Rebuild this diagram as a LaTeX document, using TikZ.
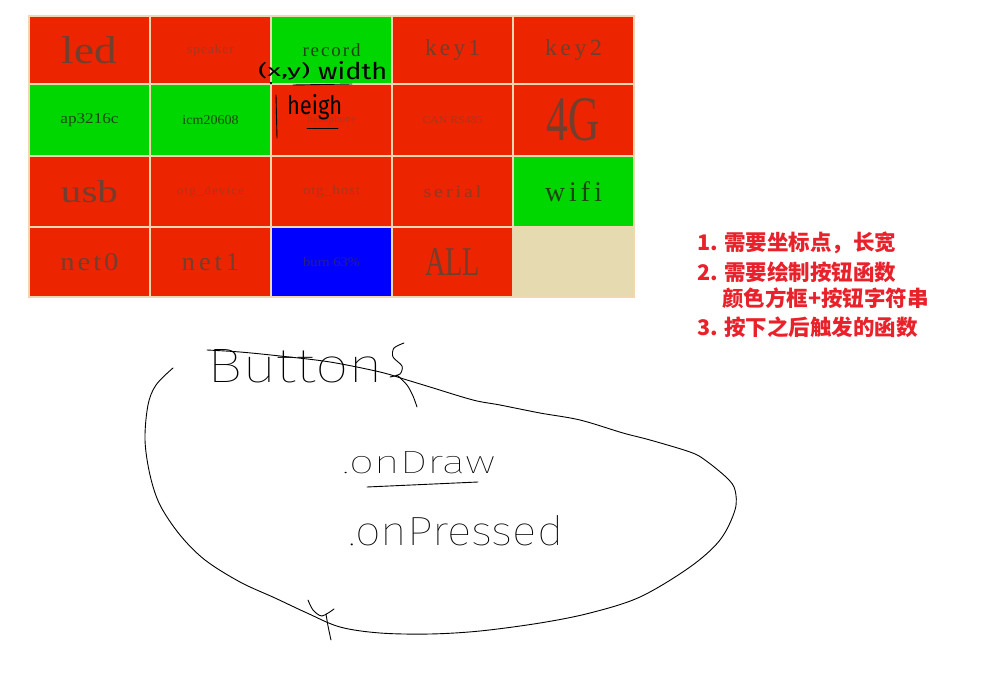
\documentclass[tikz,border=0pt]{standalone}
\usepackage{fontspec}
\usepackage{graphicx}
\setmainfont{Liberation Serif}
\newfontfamily\cjk{Noto Sans CJK SC}
\newfontfamily\handfont{Fira Sans Thin}
\newfontfamily\notefont{Fira Sans}
\definecolor{bred}{RGB}{236,36,0}
\definecolor{bgreen}{RGB}{0,214,0}
\definecolor{bblue}{RGB}{0,0,255}
\definecolor{bline}{RGB}{242,214,176}
\definecolor{bempty}{RGB}{230,218,176}
\definecolor{tdark}{RGB}{115,62,45}
\definecolor{tmid}{RGB}{150,55,30}
\definecolor{tfaint}{RGB}{175,52,28}
\definecolor{tgreen}{RGB}{30,70,20}
\definecolor{tblue}{RGB}{40,30,140}
\definecolor{cnred}{RGB}{232,33,43}
\newcommand\ct[4]{\resizebox{#1pt}{#2pt}{\addfontfeature{LetterSpace=#3}#4}}
\newcommand\hw[3]{\resizebox{#1pt}{#2pt}{\handfont #3}}
\newcommand\nw[3]{\resizebox{#1pt}{#2pt}{\notefont #3}}
\tikzset{
  cell/.style={draw=bline, line width=2.2pt, minimum width=121pt, minimum height=#1pt, inner sep=0pt},
  hand/.style={inner sep=0pt, text=black},
  handline/.style={draw=black, line width=0.9pt, line cap=round, line join=round},
  cn/.style={inner sep=0pt, anchor=west, text=cnred, font=\cjk\bfseries\fontsize{21.5}{21.5}\selectfont}
}
\begin{document}
\begin{tikzpicture}[x=1pt,y=-1pt]
\useasboundingbox (0,0) rectangle (983,687);
\fill[white] (0,0) rectangle (983,687);

% row 1
\node[cell=68, fill=bred, text=tdark] (c11) at (89.5,50) {\ct{55}{27}{0}{led}};
\node[cell=68, fill=bred, text=tfaint] (c12) at (210.5,50) {\ct{47}{9}{5}{speaker}};
\node[cell=68, fill=bgreen, text=tgreen] (c13) at (331.5,50) {\ct{58}{13}{10}{record}};
\node[cell=68, fill=bred, text=tdark] (c14) at (452.5,50) {\ct{55}{16}{15}{key1}};
\node[cell=68, fill=bred, text=tdark] (c15) at (573.5,50) {\ct{57}{16}{15}{key2}};
% row 2
\node[cell=72, fill=bgreen, text=tgreen] (c21) at (89.5,120) {\ct{58}{10}{0}{ap3216c}};
\node[cell=72, fill=bgreen, text=tgreen] (c22) at (210.5,120) {\ct{56}{9}{0}{icm20608}};
\node[cell=72, fill=bred, text=tfaint] (c23) at (331.5,120) {\ct{48}{7}{5}{headphone}};
\node[cell=72, fill=bred, text=tfaint] (c24) at (452.5,120) {\ct{60}{7}{0}{CAN RS485}};
\node[cell=72, fill=bred, text=tdark] (c25) at (573.5,120) {\ct{53}{42}{0}{4G}};
% row 3
\node[cell=71, fill=bred, text=tdark] (c31) at (89.5,191.5) {\ct{57}{22}{0}{usb}};
\node[cell=71, fill=bred, text=tfaint] (c32) at (210.5,191.5) {\ct{67}{8}{10}{otg\_device}};
\node[cell=71, fill=bred, text=tfaint] (c33) at (331.5,191.5) {\ct{57}{9}{5}{otg\_host}};
\node[cell=71, fill=bred, text=tmid] (c34) at (452.5,191.5) {\ct{58}{12}{15}{serial}};
\node[cell=71, fill=bgreen, text=tgreen] (c35) at (573.5,191.5) {\ct{57}{20}{15}{wifi}};
% row 4
\node[cell=70, fill=bred, text=tdark] (c41) at (89.5,262) {\ct{58}{17}{10}{net0}};
\node[cell=70, fill=bred, text=tdark] (c42) at (210.5,262) {\ct{57}{17}{15}{net1}};
\node[cell=70, fill=bblue, text=tblue] (c43) at (331.5,262) {\ct{57}{9}{0}{burn 63\%}};
\node[cell=70, fill=bred, text=tdark] (c44) at (452.5,262) {\ct{55}{27}{0}{ALL}};
\node[cell=70, fill=bempty] (c45) at (573.5,262) {};

% annotations on the grid
\node[hand, anchor=west] (xy) at (258,71) {\nw{52}{14}{(x,y)}};
\node[hand, anchor=west] (wd) at (318,71) {\nw{69}{18}{width}};
\draw[handline] (293,85) -- (352,84);
\fill (271,83) circle (1.3);
\draw[handline] (276,95) -- (277,138);
\node[hand, anchor=west] (hg) at (287,107) {\nw{55}{20}{heigh}};
\draw[handline] (307,128) -- (338,128);

% chinese notes
\node[cn] (n1) at (697,243) {1. 需要坐标点，长宽};
\node[cn] (n2) at (697,272) {2. 需要绘制按钮函数};
\node[cn] (n3) at (722,298) {颜色方框+按钮字符串};
\node[cn] (n4) at (697,327) {3. 按下之后触发的函数};

% sketch of Button
\node[hand, anchor=south west] (bt) at (207,383) {\hw{176}{33}{Button}};
\draw[handline] plot[smooth] coordinates {(404,343) (394,348) (393,357) (402,366) (400,374) (390,377)};
\draw[handline] plot[smooth] coordinates {(397,375) (407,385) (413,396) (417,407)};
\node[hand, anchor=south west] (od) at (342,474) {\hw{153}{22}{.onDraw}};
\draw[handline] (367,487) -- (478,482);
\node[hand, anchor=south west] (op) at (348,546) {\hw{215}{30}{.onPressed}};
\draw[handline] plot[smooth, tension=0.55] coordinates {(173,368) (156,385) (148,405) (145,440) (150,475) (160,505) (180,535) (205,560) (240,582) (275,598) (307,613) (340,627) (380,633) (430,634) (480,631) (540,623) (590,613) (640,597) (690,567) (720,540) (735,510) (735,490) (727,478) (705,460) (690,452) (650,440) (623,433) (580,420) (540,413) (500,405) (473,400) (430,387) (407,380) (380,372) (330,362) (280,356) (240,352) (207,350)};
\draw[handline] plot[smooth] coordinates {(308,600) (313,610) (322,616) (334,609)};
\draw[handline] plot[smooth] coordinates {(326,614) (328,626) (331,640)};
\end{tikzpicture}
\end{document}
